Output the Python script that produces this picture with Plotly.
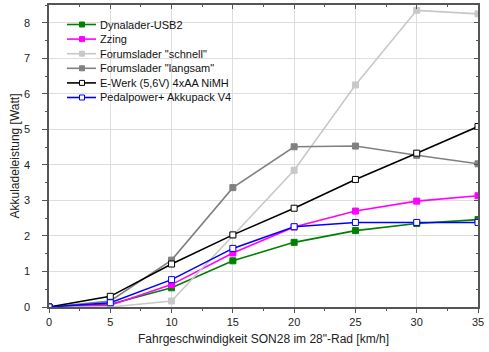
import plotly.graph_objects as go

speed = [0, 5, 10, 15, 20, 25, 30, 35]

names = ["Dynalader-USB2", "Zzing", 'Forumslader "schnell"', 'Forumslader "langsam"',
         "E-Werk (5,6V) 4xAA NiMH", "Pedalpower+ Akkupack V4"]

dynalader = [0, 0.08, 0.54, 1.30, 1.82, 2.15, 2.35, 2.46]
zzing = [0, 0.05, 0.63, 1.52, 2.25, 2.70, 2.98, 3.13]
schnell = [0, 0.0, 0.17, 2.02, 3.85, 6.25, 8.35, 8.25]
langsam = [0, 0.17, 1.32, 3.36, 4.51, 4.53, 4.27, 4.03]
ewerk = [0, 0.30, 1.21, 2.03, 2.78, 3.59, 4.33, 5.08]
pedal = [0, 0.12, 0.77, 1.65, 2.26, 2.38, 2.38, 2.38]

series = [dynalader, zzing, schnell, langsam, ewerk, pedal]
colors = ["#008000", "#ff00ff", "#c8c8c8", "#808080", "#000000", "#0000ff"]
open_marker = [False, False, False, False, True, True]

W, H = 489, 352
ML, MR, MT, MB = 49, 11, 5, 45
PW, PH = W - ML - MR, H - MT - MB


def px_x(p):
    return (p - ML) / PW


def px_y(p):
    return (H - MB - p) / PH


fig = go.Figure()
shapes = []
annotations = []
for i, (name, ys, c, op) in enumerate(zip(names, series, colors, open_marker)):
    fill = "white" if op else c
    fig.add_trace(go.Scatter(
        x=speed, y=ys, name=name, mode="lines+markers", showlegend=False,
        line=dict(color=c, width=1.6),
        marker=dict(symbol="square", size=6, color=fill, line=dict(color=c, width=1)),
    ))
    # manual legend entry
    ly = 24.5 + i * 14.6
    shapes.append(dict(type="line", xref="paper", yref="paper",
                       x0=px_x(67), x1=px_x(96), y0=px_y(ly), y1=px_y(ly),
                       line=dict(color=c, width=1.6)))
    shapes.append(dict(type="rect", xref="paper", yref="paper",
                       x0=px_x(79.5), x1=px_x(84.5), y0=px_y(ly + 2.5), y1=px_y(ly - 2.5),
                       fillcolor=fill, line=dict(color=c, width=1)))
    annotations.append(dict(text=name, xref="paper", yref="paper",
                            x=px_x(98), y=px_y(ly), xanchor="left", yanchor="middle",
                            showarrow=False, font=dict(size=11, color="#111")))

fig.add_trace(go.Scatter(x=[None], y=[None], xaxis="x2", yaxis="y2",
                         showlegend=False, hoverinfo="skip"))

axis_col = "#555555"
fig.update_layout(
    width=W, height=H,
    margin=dict(l=ML, r=MR, t=MT, b=MB),
    paper_bgcolor="white", plot_bgcolor="white",
    font=dict(family="Liberation Sans, Arial, sans-serif", size=11, color="#222"),
    showlegend=False,
    shapes=shapes, annotations=annotations,
    xaxis=dict(range=[0, 35], dtick=5, tick0=0, showgrid=True, gridcolor="#dddddd",
               gridwidth=1, zeroline=False, showline=True, linecolor=axis_col,
               linewidth=1.5, ticks="outside", ticklen=4, tickcolor=axis_col,
               minor=dict(dtick=2.5, ticks="outside", ticklen=2, tickcolor=axis_col),
               title=dict(text="Fahrgeschwindigkeit SON28 im 28\"-Rad [km/h]",
                          font=dict(size=12), standoff=8)),
    yaxis=dict(range=[0, 8.5], dtick=1, tick0=0, showgrid=True, gridcolor="#dddddd",
               gridwidth=1, zeroline=False, showline=True, linecolor=axis_col,
               linewidth=1.5, ticks="outside", ticklen=5, tickcolor=axis_col,
               ticklabelstandoff=10,
               minor=dict(dtick=0.5, ticks="outside", ticklen=2, tickcolor=axis_col),
               title=dict(text="Akkuladeleistung [Watt]", font=dict(size=12), standoff=2)),
    xaxis2=dict(range=[0, 35], dtick=5, tick0=0, overlaying="x", side="top",
                showgrid=False, zeroline=False, showline=True, linecolor=axis_col,
                linewidth=1.5, ticks="inside", ticklen=4, tickcolor=axis_col,
                showticklabels=False,
                minor=dict(dtick=2.5, ticks="inside", ticklen=2, tickcolor=axis_col)),
    yaxis2=dict(range=[0, 8.5], dtick=1, tick0=0, overlaying="y", side="right",
                showgrid=False, zeroline=False, showline=True, linecolor=axis_col,
                linewidth=1.5, ticks="inside", ticklen=4, tickcolor=axis_col,
                showticklabels=False,
                minor=dict(dtick=0.5, ticks="inside", ticklen=2, tickcolor=axis_col)),
)

fig.write_html("out.html")
